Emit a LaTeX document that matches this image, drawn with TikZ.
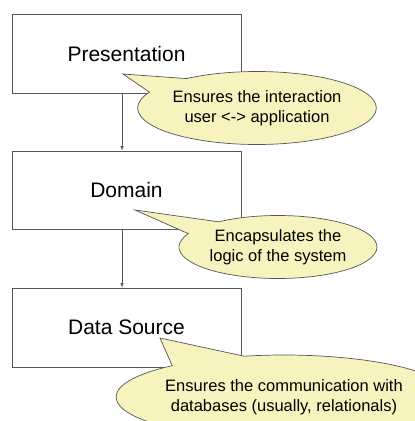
\documentclass[tikz,border=0pt]{standalone}
\usepackage{fontspec}
\setmainfont{Liberation Sans}
\usetikzlibrary{shapes.callouts}
\definecolor{notefill}{RGB}{247,243,190}
\definecolor{linegray}{RGB}{85,85,85}
\tikzset{
  layer/.style={draw=linegray, line width=0.8pt, minimum width=229pt,
    minimum height=79pt, font=\fontsize{21}{25}\selectfont},
  note/.style={ellipse callout, draw=linegray, line width=0.7pt, fill=notefill,
    inner sep=0pt, align=center, callout pointer arc=28,
    font=\fontsize{16.5}{20}\selectfont}
}
\begin{document}
\begin{tikzpicture}[x=1pt,y=-1pt]
  \useasboundingbox (0,0) rectangle (415,421);
  \clip (0,0) rectangle (415,421);
  % layers
  \node [layer] (pres) at (126.5,53.5) {Presentation};
  \node [layer, minimum height=78pt] (dom) at (126.5,190) {Domain};
  \node [layer] (data) at (126.5,327.5) {Data Source};
  \draw [linegray, line width=0.6pt, -latex] ([xshift=-4.5pt]pres.south) -- ([xshift=-4.5pt]dom.north);
  \draw [linegray, line width=0.6pt, -latex] ([xshift=-4.5pt]dom.south) -- ([xshift=-4.5pt]data.north);
  % notes
  \node [note, minimum width=222pt, minimum height=73pt,
    callout absolute pointer={(123,74)}] (presnote) at (257,108)
    {Ensures the interaction\\user <-> application};
  \node [note, minimum width=198pt, minimum height=63pt,
    callout absolute pointer={(135,210)}] (domnote) at (278,247)
    {Encapsulates the\\logic of the system};
  \node [note, minimum width=334pt, minimum height=84pt,
    callout absolute pointer={(160,338)}] (datanote) at (284,397)
    {Ensures the communication with\\databases (usually, relationals)};
\end{tikzpicture}
\end{document}
